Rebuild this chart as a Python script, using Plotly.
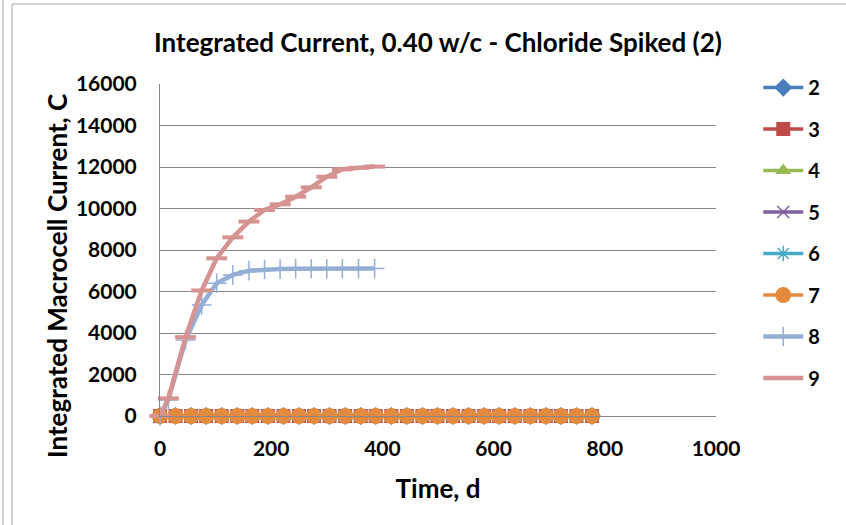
import plotly.graph_objects as go

# ---------------- data ----------------
series_names = ["2", "3", "4", "5", "6", "7", "8", "9"]

days_long = [0, 28, 56, 83, 111, 139, 166, 194, 222, 250, 277, 305, 333, 361, 388,
             416, 444, 472, 499, 527, 555, 583, 610, 638, 666, 694, 721, 749, 777]
zeros_long = [0] * len(days_long)

days_short = [0, 15, 46, 75, 102, 131, 160, 188, 216, 244, 272, 300, 328, 357, 386]
s8_values = [0, 770, 3660, 5350, 6400, 6800, 7000, 7060, 7080, 7100, 7100, 7100, 7100, 7110, 7110]
s9_values = [0, 850, 3800, 6050, 7600, 8610, 9370, 9930, 10200, 10570, 11020, 11530, 11890, 11960, 12020]

x_ticks = [0, 200, 400, 600, 800, 1000]
y_ticks = [0, 2000, 4000, 6000, 8000, 10000, 12000, 14000, 16000]

title_text = "Integrated Current, 0.40 w/c - Chloride Spiked (2)"
x_title = "Time, d"
y_title = "Integrated Macrocell Current, C"

# ---------------- styles ----------------
colors = ["#4A7EBB", "#BE4B48", "#98B954", "#7D60A0", "#46AAC5", "#E48A3F", "#94AED6", "#D69391"]
symbols = ["diamond", "square", "triangle-up", "x-thin-open", "asterisk-open",
           "circle", "cross-thin-open", "line-ew-open"]
sizes = [14, 14, 14, 12, 13, 16, 14, 15]
line_widths = [3.5, 3.5, 3.5, 3.5, 3.5, 3.5, 4.5, 4.5]
marker_line_widths = [0, 0, 0, 1.5, 1.5, 0, 1.5, 4]

series_x = [days_long] * 6 + [days_short, days_short]
series_y = [zeros_long] * 6 + [s8_values, s9_values]

FONT = "Lato"

fig = go.Figure()
for i, name in enumerate(series_names):
    fig.add_trace(go.Scatter(
        x=series_x[i], y=series_y[i], name=name, legendgroup=name,
        mode="lines+markers",
        line=dict(color=colors[i], width=line_widths[i]),
        marker=dict(symbol=symbols[i], size=sizes[i], color=colors[i],
                    line=dict(color=colors[i], width=marker_line_widths[i])),
        cliponaxis=False,
    ))

fig.update_layout(
    width=846, height=525,
    paper_bgcolor="white", plot_bgcolor="white",
    margin=dict(l=160, r=130, t=84, b=109, autoexpand=False),
    title=dict(text=title_text, x=0.5, xref="paper", xanchor="center",
               y=1 - 43 / 525, yanchor="middle",
               font=dict(family=FONT, size=26, color="black", weight="bold")),
    font=dict(family=FONT, color="black"),
    legend=dict(x=1.076, xanchor="left", y=1.048, yanchor="top",
                traceorder="grouped", tracegroupgap=12.5, maxheight=520,
                font=dict(family=FONT, size=20, color="black", weight="bold"),
                bgcolor="rgba(0,0,0,0)", itemwidth=40),
    showlegend=True,
    annotations=[dict(text=y_title, textangle=-90, xref="paper", yref="paper",
                      x=(57 - 160) / 556, y=(416 - 276) / 332,
                      xanchor="center", yanchor="middle", showarrow=False,
                      font=dict(family=FONT, size=26, color="black", weight="bold"))],
)

fig.update_xaxes(range=[0, 1000], tickvals=x_ticks, ticktext=[str(v) for v in x_ticks],
                 showgrid=False, automargin=False,
                 showline=True, linecolor="#878787", linewidth=1, zeroline=False,
                 ticks="", ticklabelstandoff=14,
                 tickfont=dict(family=FONT, size=21, color="black", weight="bold"),
                 title=dict(text=x_title, standoff=20,
                            font=dict(family=FONT, size=26, color="black", weight="bold")))
fig.update_yaxes(range=[0, 16000], tickvals=y_ticks, ticktext=[str(v) for v in y_ticks],
                 showgrid=True, gridcolor="#878787", automargin=False,
                 gridwidth=1, showline=True, linecolor="#878787", linewidth=1, zeroline=False,
                 ticks="", ticklabelstandoff=18,
                 tickfont=dict(family=FONT, size=21, color="black", weight="bold"))

# chart frame (left and top edges only; the rest lies outside the picture)
frame_color = "#A6A6A6"
fig.add_shape(type="line", xref="paper", yref="paper",
              x0=(3 - 160) / 556, x1=(3 - 160) / 556, y0=(416 + 20) / 332, y1=(416 - 560) / 332,
              line=dict(color=frame_color, width=1))
fig.add_shape(type="line", xref="paper", yref="paper",
              x0=(12 - 160) / 556, x1=(12 - 160) / 556, y0=(416 - 4) / 332, y1=(416 - 560) / 332,
              line=dict(color=frame_color, width=1))
fig.add_shape(type="line", xref="paper", yref="paper",
              x0=(12 - 160) / 556, x1=(950 - 160) / 556, y0=(416 - 4) / 332, y1=(416 - 4) / 332,
              line=dict(color=frame_color, width=1))

fig.write_html("out.html", config={"displayModeBar": False},
               post_script="document.body.style.margin='0px';document.body.style.padding='0px';")
